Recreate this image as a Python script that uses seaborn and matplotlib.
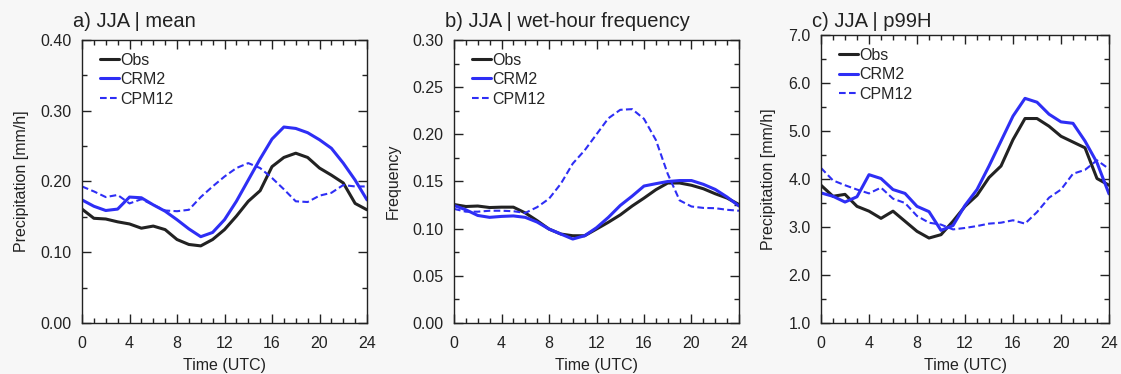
import numpy as np
import pandas as pd
import matplotlib
matplotlib.use("Agg")
import matplotlib.pyplot as plt
from matplotlib.ticker import MultipleLocator, FormatStrFormatter
import seaborn as sns

hours = list(range(25))

# Panel a: mean precipitation (mm/h)
a_obs = [0.161, 0.148, 0.147, 0.143, 0.140, 0.134, 0.137, 0.132, 0.118, 0.111, 0.109, 0.118, 0.132,
         0.151, 0.172, 0.187, 0.221, 0.234, 0.240, 0.234, 0.219, 0.209, 0.198, 0.169, 0.160]
a_crm2 = [0.174, 0.165, 0.159, 0.161, 0.178, 0.177, 0.167, 0.158, 0.146, 0.133, 0.122, 0.128, 0.146,
          0.172, 0.202, 0.232, 0.260, 0.277, 0.275, 0.269, 0.259, 0.247, 0.226, 0.202, 0.174]
a_cpm12 = [0.193, 0.186, 0.178, 0.181, 0.169, 0.175, 0.167, 0.159, 0.158, 0.160, 0.178, 0.193, 0.207,
           0.219, 0.226, 0.219, 0.205, 0.189, 0.172, 0.171, 0.180, 0.184, 0.195, 0.193, 0.193]

# Panel b: wet-hour frequency
b_obs = [0.1256, 0.1235, 0.124, 0.1224, 0.1228, 0.1228, 0.1167, 0.1085, 0.0996, 0.0943, 0.0925, 0.0925,
         0.0996, 0.1068, 0.1146, 0.124, 0.1324, 0.1413, 0.1484, 0.1484, 0.146, 0.1423, 0.137, 0.1324, 0.1256]
b_crm2 = [0.1246, 0.120, 0.114, 0.112, 0.113, 0.1135, 0.112, 0.107, 0.0996, 0.0943, 0.089, 0.0925,
          0.101, 0.112, 0.1246, 0.1345, 0.1452, 0.1477, 0.150, 0.151, 0.151, 0.147, 0.1416, 0.1335, 0.124]
b_cpm12 = [0.121, 0.118, 0.118, 0.119, 0.119, 0.1185, 0.1167, 0.1228, 0.1317, 0.1477, 0.169, 0.183,
           0.200, 0.217, 0.226, 0.2267, 0.2164, 0.194, 0.158, 0.130, 0.1235, 0.122, 0.1217, 0.120, 0.119]

# Panel c: p99H precipitation (mm/h)
c_obs = [3.87, 3.64, 3.68, 3.43, 3.33, 3.18, 3.33, 3.12, 2.91, 2.77, 2.84, 3.12, 3.43,
         3.66, 4.03, 4.27, 4.82, 5.26, 5.26, 5.10, 4.89, 4.77, 4.65, 4.01, 3.87]
c_crm2 = [3.71, 3.64, 3.52, 3.63, 4.09, 4.01, 3.78, 3.70, 3.43, 3.32, 2.93, 3.03, 3.45,
          3.78, 4.27, 4.79, 5.31, 5.68, 5.60, 5.35, 5.19, 5.16, 4.79, 4.34, 3.69]
c_cpm12 = [4.23, 3.97, 3.87, 3.78, 3.70, 3.82, 3.59, 3.50, 3.23, 3.09, 3.05, 2.95, 2.98,
           3.02, 3.07, 3.09, 3.14, 3.07, 3.31, 3.61, 3.78, 4.11, 4.19, 4.39, 4.21]

series_names = ["Obs", "CRM2", "CPM12"]
titles = ["a) JJA | mean", "b) JJA | wet-hour frequency", "c) JJA | p99H"]
ylabels = ["Precipitation [mm/h]", "Frequency", "Precipitation [mm/h]"]
ylims = [(0.0, 0.40), (0.0, 0.30), (1.0, 7.0)]
ymajor = [0.10, 0.05, 1.0]
yfmt = ["%.2f", "%.2f", "%.1f"]
xticks = [0, 4, 8, 12, 16, 20, 24]

panels = [(a_obs, a_crm2, a_cpm12), (b_obs, b_crm2, b_cpm12), (c_obs, c_crm2, c_cpm12)]

sns.set_style("ticks")
plt.rcParams["font.family"] = ["Liberation Sans", "DejaVu Sans"]

BG = "#f7f7f7"
BLUE = "#2e2ef5"
BLACK = "#222222"

fig = plt.figure(figsize=(11.21, 3.74), dpi=100, facecolor=BG)
W, H = 1121, 374
boxes = [(82, 367, 40, 323), (454, 739, 40, 323), (821, 1109, 35, 323)]

palette = {"Obs": BLACK, "CRM2": BLUE, "CPM12": BLUE}
sizes = {"Obs": 2.2, "CRM2": 2.2, "CPM12": 1.5}
dashes = {"Obs": "", "CRM2": "", "CPM12": (3.2, 1.6)}

for i, (vals, box) in enumerate(zip(panels, boxes)):
    l, r, t, b = box
    ax = fig.add_axes([l / W, (H - b) / H, (r - l) / W, (b - t) / H])
    ax.set_facecolor("white")
    df = pd.DataFrame({
        "hour": hours * 3,
        "value": list(vals[0]) + list(vals[1]) + list(vals[2]),
        "series": [n for n in series_names for _ in hours],
    })
    sns.lineplot(data=df, x="hour", y="value", hue="series", style="series",
                 size="series", sizes=sizes, palette=palette, dashes=dashes,
                 hue_order=series_names, style_order=series_names, size_order=series_names,
                 ax=ax, legend=False)
    ax.set_xlim(0, 24)
    ax.set_ylim(*ylims[i])
    ax.set_xticks(xticks)
    ax.xaxis.set_minor_locator(MultipleLocator(1))
    ax.yaxis.set_major_locator(MultipleLocator(ymajor[i]))
    ax.yaxis.set_minor_locator(MultipleLocator(ymajor[i] / 2))
    ax.yaxis.set_major_formatter(FormatStrFormatter(yfmt[i]))
    ax.tick_params(which="both", direction="in", top=True, right=True, colors="#222222",
                   labelsize=11.5, width=1.0)
    ax.tick_params(which="major", length=6.5)
    ax.tick_params(which="minor", length=3.6)
    ax.tick_params(axis="x", which="major", pad=9.5)
    ax.tick_params(axis="y", which="major", pad=7.5)
    for s in ax.spines.values():
        s.set_linewidth(1.0)
        s.set_color("#222222")
    ax.set_xlabel("Time (UTC)", fontsize=11.5, color="#222222", labelpad=5)
    ax.set_ylabel(ylabels[i], fontsize=11.5, color="#222222", labelpad=8.5)
    fig.text((l - 9) / W, (H - 27) / H, titles[i], fontsize=14.5,
             ha="left", va="baseline", color="#222222")
    handles = ax.get_lines()[:3]
    ax.legend(handles=handles, labels=series_names, loc="upper left",
              bbox_to_anchor=(0.04, 0.978), frameon=False, fontsize=11.5,
              handlelength=1.2, handletextpad=0.05, labelspacing=0.28,
              borderaxespad=0.0)

fig.savefig("out.png", dpi=100, facecolor=BG)
